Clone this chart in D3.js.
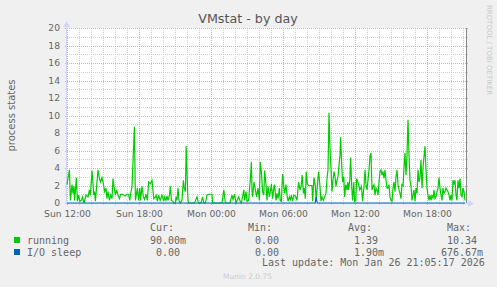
<!DOCTYPE html>
<html>
<head>
<meta charset="utf-8">
<script src="https://cdn.jsdelivr.net/npm/d3@7"></script>
<style>
  body { margin: 0; background: #f0f0f0; }
  svg { display: block; font-family: 'DejaVu Sans', sans-serif; }
  .mono { font-family: 'DejaVu Sans Mono', monospace; }
</style>
</head>
<body>
<svg id="chart"></svg>
<script>
// minutes after Sun 12:00 and the value read at that time
const runMinutes = [0,12,17,25,30,35,38,47,52,58,64,72,78,85,95,105,112,117,125,134,138,142,155,162,168,175,182,188,195,200,205,212,218,225,230,235,242,248,255,262,268,280,290,300,308,314,318,325,337,342,352,355,358,364,368,375,382,388,395,402,408,417,425,434,442,446,452,458,466,475,
  484,488,495,500,505,512,517,522,528,535,542,545,550,555,560,566,575,582,586,592,596,602,605,608,638,650,655,658,670,678,684,692,700,708,725,728,775,784,792,815,825,830,838,845,858,866,872,884,888,895,900,908,917,922,925,928,935,942,948,955,962,966,972,978,
  984,988,995,1000,1005,1012,1017,1022,1028,1034,1038,1045,1050,1055,1062,1066,1072,1078,1084,1088,1095,1100,1105,1112,1117,1122,1128,1134,1142,1150,1158,1165,1172,1176,1182,1186,1192,1196,1202,1210,1225,1228,1235,1242,1246,1254,1258,1265,1270,1275,1282,1288,1295,1300,1305,1310,1315,1320,1325,1330,1335,1340,1345,1350,1355,1360,1365,1368,1374,1378,1384,1388,1394,1400,1404,1408,1414,1418,1424,1428,1434,1438,1444,1448,1454,1458,1464,1472,
  1478,1485,1490,1495,1500,1505,1510,1515,1520,1525,1530,1535,1540,1545,1550,1555,1560,1565,1570,1575,1580,1585,1590,1595,1600,1605,1610,1615,1620,1625,1630,1635,1640,1645,1650,1655,1660,1665,1670,1675,1680,1685,1690,1695,1700,1705,1710,1715,1720,1725,1730,1735,1740,1745,1750,1755,1760,1765,1770,1775,1780,1785,1790,1795,1800,1805,1810,1815,1820,1825,1830,1835,1840,1845,1850,1855,1860,1865,1870,1875,1880,1885,1890,1895,1900,1905,1910,1915,1920,1925,1930,1935,1940,1945,1950,1955,1960,1965,1970,1975,1980,1985,1990];
const running = [2.1,3.8,0.3,2.1,1.1,1.9,0.3,2.9,0.2,0.9,0.2,0.3,0.7,0.0,0.9,0.7,1.5,0.9,3.7,0.9,1.3,0.2,3.8,2.8,2.4,2.9,2.2,1.3,1.7,0.5,1.3,0.3,0.9,0.5,2.8,1.9,0.9,1.5,0.9,0.5,1.0,1.0,0.8,1.0,1.0,0.3,1.0,1.9,8.7,0.3,1.7,0.9,0.3,1.7,0.3,1.9,0.7,0.4,1.0,0.3,2.4,2.2,2.6,0.5,0.7,0.9,0.2,0.9,0.3,0.9,
  0.2,0.7,0.3,0.8,0.3,0.9,1.9,0.3,0.2,0.0,0.0,0.7,0.3,1.7,0.3,0.0,0.3,2.6,1.7,1.3,6.5,2.2,0.3,0.0,0.0,0.7,0.2,0.0,0.0,0.7,0.0,0.0,0.9,1.0,1.0,0.0,0.0,1.5,0.0,0.0,0.9,0.4,1.0,0.0,0.7,0.2,0.0,1.5,0.3,1.3,0.2,0.3,2.8,4.7,1.5,0.7,2.4,1.5,0.7,1.7,0.3,4.7,3.5,1.3,
  0.9,3.7,2.1,0.3,1.9,0.7,1.3,2.2,0.5,1.7,2.1,0.3,1.1,0.5,1.7,0.3,0.2,3.3,1.9,1.1,2.1,0.9,0.2,0.7,0.3,0.9,0.2,0.9,0.8,0.3,2.4,1.5,2.1,3.2,1.1,1.7,0.5,3.6,2.1,2.0,2.0,0.2,2.9,1.9,0.3,2.6,3.6,1.9,0.2,0.7,0.3,0.7,1.1,2.8,3.8,10.3,6.3,3.9,1.3,2.6,3.6,3.0,1.9,2.6,3.0,4.3,5.5,7.5,4.2,2.4,3.0,0.7,2.1,1.5,2.4,1.5,2.6,5.2,1.7,0.3,2.4,0.2,0.3,2.8,2.4,2.1,1.5,1.9,0.2,
  1.9,3.8,2.1,1.5,2.6,3.8,5.4,5.7,1.5,1.9,2.1,0.9,1.7,1.5,0.9,2.3,3.6,3.8,3.2,3.6,2.8,3.8,2.6,1.7,1.7,2.1,0.7,0.3,0.2,1.7,2.4,1.3,3.0,3.8,2.1,1.5,1.1,0.5,2.2,1.9,4.0,5.7,3.2,5.5,9.5,5.5,2.6,1.9,0.3,0.9,1.5,0.2,1.7,1.1,3.8,2.4,2.9,4.9,1.7,4.0,5.3,6.5,3.8,1.7,0.9,0.3,0.9,0.3,0.9,0.5,1.5,0.5,0.7,1.3,1.7,2.9,1.7,0.9,0.3,1.7,1.1,1.3,1.7,1.5,1.3,0.9,0.3,0.9,0.3,2.6,2.2,2.6,0.9,0.3,2.6,1.7,2.8,0.9,0.7,1.7,1.3,0.3,0.1];
const ioMinutes = [0,1241,1246,1251,1990];
const ioSleep = [0,0,0.68,0,0];

const seriesNames = ['running', 'I/O sleep'];
const seriesColors = ['#00cc00', '#0066b3'];
const curVals = ['90.00m', '0.00'];
const minVals = ['0.00', '0.00'];
const avgVals = ['1.39', '1.90m'];
const maxVals = ['10.34', '676.67m'];

const width = 497, height = 287;
const plotLeft = 67, plotRight = 467, plotTop = 28, plotBottom = 203;

const svg = d3.select('#chart')
    .attr('width', width)
    .attr('height', height);

const start = new Date(2026, 0, 25, 12, 0);
const end = new Date(start.getTime() + 400 * 5 * 60000);
const toDate = m => new Date(start.getTime() + m * 60000);

const x = d3.scaleTime().domain([start, end]).range([plotLeft, plotRight]);
const y = d3.scaleLinear().domain([0, 20]).range([plotBottom, plotTop]);

// plot background
svg.append('rect')
    .attr('x', plotLeft).attr('y', plotTop)
    .attr('width', plotRight - plotLeft).attr('height', plotBottom - plotTop)
    .attr('fill', '#fff');

// grid, minor then major
const grid = svg.append('g').attr('shape-rendering', 'crispEdges');
grid.selectAll('.hminor')
    .data(d3.range(1, 20, 2))
    .join('line')
    .attr('x1', plotLeft - 2).attr('x2', plotRight + 2)
    .attr('y1', d => Math.round(y(d)) + 0.5).attr('y2', d => Math.round(y(d)) + 0.5)
    .attr('stroke', '#cfcfcf').attr('stroke-dasharray', '1,1');
grid.selectAll('.vminor')
    .data(x.ticks(d3.timeHour.every(1)).filter(d => d.getHours() % 6 != 0))
    .join('line')
    .attr('x1', d => Math.round(x(d)) + 0.5).attr('x2', d => Math.round(x(d)) + 0.5)
    .attr('y1', plotTop).attr('y2', plotBottom + 2)
    .attr('stroke', '#cfcfcf').attr('stroke-dasharray', '1,1');
grid.selectAll('.hmajor')
    .data(d3.range(2, 21, 2))
    .join('line')
    .attr('x1', plotLeft - 2).attr('x2', plotRight + 2)
    .attr('y1', d => Math.round(y(d)) + 0.5).attr('y2', d => Math.round(y(d)) + 0.5)
    .attr('stroke', '#eaa5a5').attr('stroke-dasharray', '1,1');
grid.selectAll('.vmajor')
    .data(x.ticks(d3.timeHour.every(6)))
    .join('line')
    .attr('x1', d => Math.round(x(d)) + 0.5).attr('x2', d => Math.round(x(d)) + 0.5)
    .attr('y1', plotTop).attr('y2', plotBottom + 2)
    .attr('stroke', '#eaa5a5').attr('stroke-dasharray', '1,1');

// right edge line
svg.append('line')
    .attr('x1', plotRight - 0.5).attr('x2', plotRight - 0.5)
    .attr('y1', plotTop).attr('y2', plotBottom)
    .attr('stroke', '#888');

// axes lines + arrows
svg.append('line')
    .attr('x1', plotLeft - 0.5).attr('x2', plotLeft - 0.5)
    .attr('y1', plotBottom + 2).attr('y2', plotTop - 2)
    .attr('stroke', '#cfd6f8');
svg.append('path')
    .attr('d', `M${plotLeft - 4},${plotTop - 1}L${plotLeft - 0.5},${plotTop - 7}L${plotLeft + 3},${plotTop - 1}Z`)
    .attr('fill', '#cfd6f8');
svg.append('line')
    .attr('x1', plotLeft - 2).attr('x2', plotRight + 2)
    .attr('y1', plotBottom + 0.5).attr('y2', plotBottom + 0.5)
    .attr('stroke', '#cfd6f8');
svg.append('path')
    .attr('d', `M${plotRight + 1},${plotBottom - 3}L${plotRight + 7},${plotBottom + 0.5}L${plotRight + 1},${plotBottom + 4}Z`)
    .attr('fill', '#cfd6f8');

// tick labels
const xAxis = svg.append('g')
    .attr('transform', `translate(0,${plotBottom})`)
    .call(d3.axisBottom(x).ticks(d3.timeHour.every(6)).tickFormat(d3.timeFormat('%a %H:%M')).tickSize(0).tickPadding(7));
const yAxis = svg.append('g')
    .attr('transform', `translate(${plotLeft},0)`)
    .call(d3.axisLeft(y).tickValues(d3.range(0, 21, 2)).tickSize(0).tickPadding(7));
[xAxis, yAxis].forEach(a => {
    a.select('.domain').remove();
    a.selectAll('text').attr('font-size', '9.2px').attr('fill', '#666').attr('font-family', 'DejaVu Sans');
});

// series lines
const line = d3.line().x(d => x(d[0])).y(d => y(d[1]));
svg.append('path')
    .datum(runMinutes.map((m, i) => [toDate(m), running[i]]))
    .attr('fill', 'none')
    .attr('stroke', seriesColors[0])
    .attr('stroke-width', 1.2)
    .attr('d', line);
svg.append('path')
    .datum(ioMinutes.map((m, i) => [toDate(m), ioSleep[i]]))
    .attr('fill', 'none')
    .attr('stroke', seriesColors[1])
    .attr('stroke-width', 1.2)
    .attr('d', line);

// title and side labels
svg.append('text')
    .attr('x', 248).attr('y', 23)
    .attr('text-anchor', 'middle')
    .attr('font-size', '12.7px')
    .attr('fill', '#555')
    .text('VMstat - by day');
svg.append('text')
    .attr('transform', 'translate(11.5,115.5) rotate(-90)')
    .attr('text-anchor', 'middle')
    .attr('dominant-baseline', 'central')
    .attr('font-size', '10px')
    .attr('fill', '#666')
    .text('process states');
svg.append('text')
    .attr('transform', 'translate(487,5) rotate(90)')
    .attr('font-size', '7px')
    .attr('fill', '#c8c8c8')
    .text('RRDTOOL / TOBI OETIKER');

// legend
const legend = svg.append('g').attr('class', 'mono').attr('font-size', '10px').attr('fill', '#666');
[['Cur:', 150], ['Min:', 248], ['Avg:', 348], ['Max:', 447]].forEach(h => {
    legend.append('text').attr('x', h[1]).attr('y', 231).text(h[0]);
});
const curX = [150, 156], maxX = [447, 441];
seriesNames.forEach((name, i) => {
    const yy = 243.5 + i * 12;
    svg.append('rect')
        .attr('x', 14).attr('y', yy - 6.5)
        .attr('width', 6).attr('height', 6)
        .attr('fill', seriesColors[i]);
    legend.append('text').attr('x', 27).attr('y', yy).text(name);
    legend.append('text').attr('x', curX[i]).attr('y', yy).text(curVals[i]);
    legend.append('text').attr('x', 255).attr('y', yy).text(minVals[i]);
    legend.append('text').attr('x', 354).attr('y', yy).text(avgVals[i]);
    legend.append('text').attr('x', maxX[i]).attr('y', yy).text(maxVals[i]);
});
legend.append('text').attr('x', 262).attr('y', 266).text('Last update: Mon Jan 26 21:05:17 2026');

svg.append('text')
    .attr('x', 223).attr('y', 279)
    .attr('font-size', '7.5px')
    .attr('fill', '#cccccc')
    .text('Munin 2.0.75');
</script>
</body>
</html>
